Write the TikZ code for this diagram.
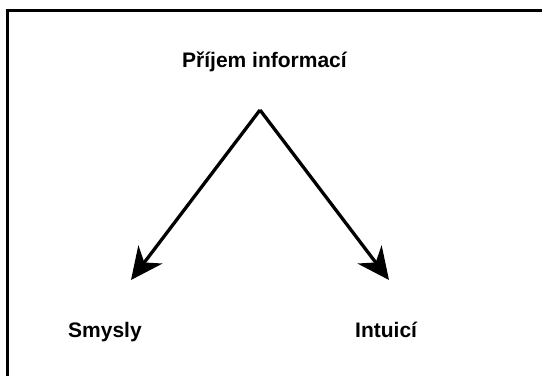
\documentclass[tikz,border=0pt]{standalone}
\usepackage{fontspec}
\setmainfont{Liberation Sans}
\usetikzlibrary{arrows.meta}
\begin{document}
\begin{tikzpicture}[x=1pt,y=-1pt,
  lbl/.style={font=\fontsize{21}{25}\selectfont\bfseries, inner sep=0pt, anchor=base west},
  frame/.style={line width=3pt},
  arr/.style={line width=3.3pt, -{Stealth[length=32pt,width=30pt,inset=10pt]}}]
\useasboundingbox (0,0) rectangle (542,376);
\fill[white] (0,0) rectangle (542,376);
\coordinate (fc) at (7,10);
\coordinate (fr) at (542,10);
\coordinate (fb) at (7,376);
\draw[frame] (fr) -- (fc) -- (fb);
\node[lbl] (title) at (182,67) {Příjem informací};
\node[lbl] (smysly) at (68,337) {Smysly};
\node[lbl] (intuici) at (355,337) {Intuicí};
\coordinate (apex) at (260,110);
\coordinate (tipL) at (131,280);
\coordinate (tipR) at (389,280);
\draw[arr] (apex) -- (tipL);
\draw[arr] (apex) -- (tipR);
\end{tikzpicture}
\end{document}
